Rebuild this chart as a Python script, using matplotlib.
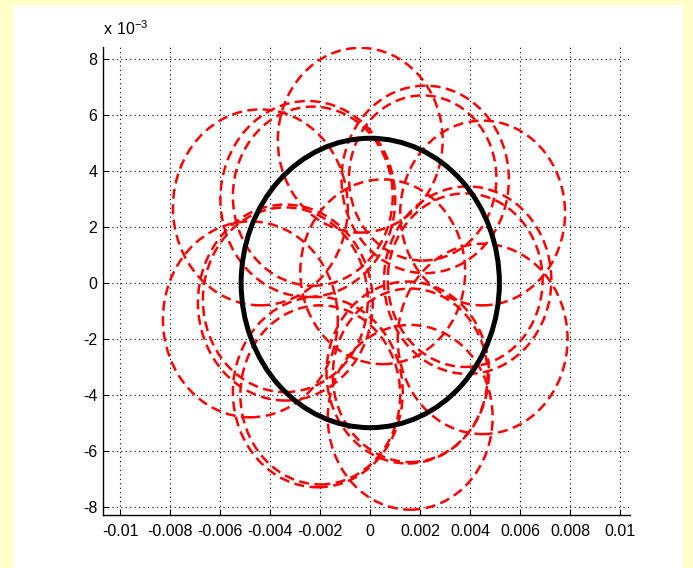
import numpy as np
import matplotlib
matplotlib.use('Agg')
import matplotlib.pyplot as plt
from matplotlib.patches import Circle, Rectangle

plt.rcParams['font.family'] = ['Liberation Sans', 'DejaVu Sans']
plt.rcParams['mathtext.fontset'] = 'custom'
plt.rcParams['mathtext.rm'] = 'Liberation Sans'

# axis ticks
xTicks = [-0.01, -0.008, -0.006, -0.004, -0.002, 0, 0.002, 0.004, 0.006, 0.008, 0.01]
xTickLabels = ['-0.01', '-0.008', '-0.006', '-0.004', '-0.002', '0',
			'0.002', '0.004', '0.006', '0.008', '0.01']
yTicks = [-8e-3, -6e-3, -4e-3, -2e-3, 0, 2e-3, 4e-3, 6e-3, 8e-3]
yTickLabels = ['-8', '-6', '-4', '-2', '0', '2', '4', '6', '8']

# black reference orbit (x 1e-3)
orbitCenter = (0.0, 0.0)
orbitRadius = 5.17

# red dashed loops, centers and radii (x 1e-3)
loopX = [-0.4, 2.2, 2.1, 4.5, 3.9, 3.8, 4.5, 1.6, 1.6, 1.5, -2.1, -2.0, -4.8, -3.4, -3.4, -4.4, -2.5, -2.3, 0.5]
loopY = [5.1, 3.7, 3.75, 2.5, 0.1, 0.1, -2.0, -4.8, -3.3, -3.2, -3.9, -4.0, -1.3, -0.6, -0.7, 2.7, 3.0, 3.1, 0.4]
loopR = [3.3, 3.35, 2.95, 3.3, 3.35, 3.1, 3.4, 3.3, 3.1, 3.25, 3.4, 3.2, 3.5, 3.3, 3.5, 3.5, 3.5, 3.2, 3.3]

scale = 1e-3

fig = plt.figure(figsize=(6.93, 5.68), dpi=100)
fig.patch.set_facecolor('#ffffc8')
# white panel inside the yellow frame
panel = Rectangle((13/693, 0), 670/693, 563.5/568, transform=fig.transFigure,
			facecolor='white', edgecolor='none', zorder=-10)
fig.add_artist(panel)

ax = fig.add_axes([103/693, 53/568, 527/693, 468/568])
ax.set_zorder(5)
ax.set_facecolor('white')

for cx, cy, r in zip(loopX, loopY, loopR):
	c = Circle((cx*scale, cy*scale), r*scale, fill=False, edgecolor='#ff0000',
			linewidth=1.8, linestyle=(0, (4, 2.2)), zorder=3)
	ax.add_patch(c)

ax.add_patch(Circle((orbitCenter[0]*scale, orbitCenter[1]*scale), orbitRadius*scale,
			fill=False, edgecolor='k', linewidth=3.6, zorder=4))

ax.set_xlim(-0.0107, 0.0104)
ax.set_ylim(-0.00829, 0.00843)

ax.set_xticks(xTicks)
ax.set_xticklabels(xTickLabels)
ax.set_yticks(yTicks)
ax.set_yticklabels(yTickLabels)
ax.tick_params(direction='in', length=4, width=0.8, labelsize=11.5)
ax.tick_params(axis='x', pad=6.5)
ax.tick_params(axis='y', pad=4)

ax.spines['right'].set_visible(False)
ax.spines['top'].set_visible(False)
ax.spines['left'].set_linewidth(1.0)
ax.spines['bottom'].set_linewidth(1.0)

ax.grid(True, color='k', linestyle=(0, (1, 3)), linewidth=0.8)
ax.set_axisbelow(True)

ax.text(0.0, 1.02, r'$\mathregular{x\ 10^{-3}}$', transform=ax.transAxes, fontsize=11.5,
		ha='left', va='bottom')

fig.savefig('out.png', dpi=100, facecolor=fig.get_facecolor())
